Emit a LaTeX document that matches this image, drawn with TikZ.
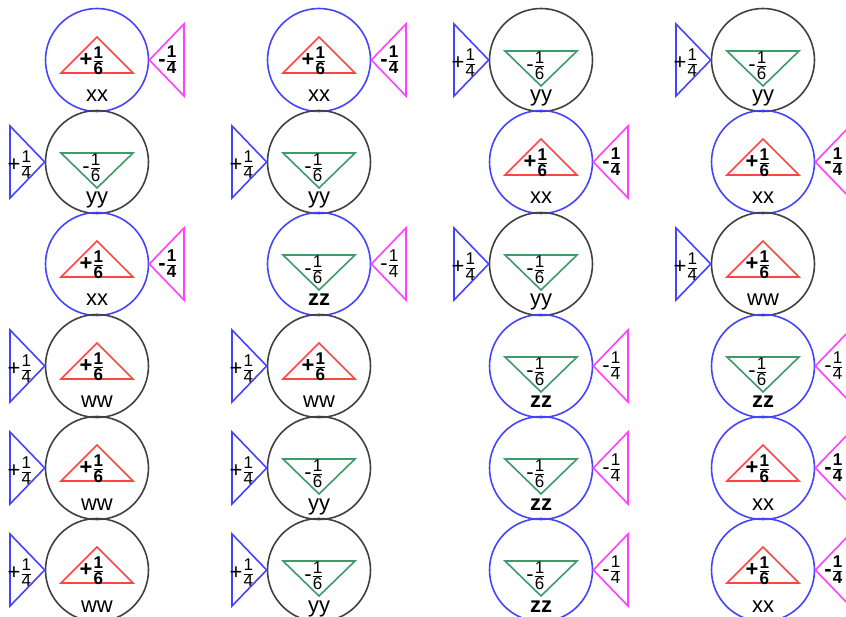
\documentclass[tikz,border=0pt]{standalone}
\usepackage{amsmath}
\usepackage{fontspec}
\setmainfont{Liberation Sans}
\usepackage{tikz}

\definecolor{ringblue}{RGB}{68,68,255}
\definecolor{ringgray}{RGB}{64,64,64}
\definecolor{trired}{RGB}{255,68,68}
\definecolor{trigreen}{RGB}{60,155,105}
\definecolor{sidepink}{RGB}{255,64,255}

\newcommand{\fracpart}[2]{$\genfrac{}{}{0.7pt}{1}{\hbox{\fontsize{17}{17}\selectfont #1}}{\hbox{\fontsize{17}{17}\selectfont #2}}$}

\begin{document}
\begin{tikzpicture}[
    x=1pt, y=-1pt,
    ring/.style={circle, draw, line width=1.6pt, minimum size=103pt, inner sep=0pt},
    tri/.style={line width=1.6pt},
    fractext/.style={font=\fontsize{22}{22}\selectfont, inner sep=0pt},
    boldfrac/.style={font=\fontsize{22}{22}\selectfont\bfseries, inner sep=0pt},
    tagtext/.style={font=\fontsize{22}{22}\selectfont, inner sep=0pt, anchor=base},
    xx/.pic={
        \node[ring, draw=ringblue] (-c) {};
        \draw[tri, trired] (0,-23) -- (36,13) -- (-36,13) -- cycle;
        \node[boldfrac] (-f) at (-5,1) {+\fracpart{1}{6}};
        \node[tagtext] (-t) at (0,42) {xx};
        \draw[tri, sidepink] (-c.east) -- (87,-36) -- (87,36) -- cycle;
        \node[boldfrac] (-s) at (71,0) {-\fracpart{1}{4}};
    },
    yy/.pic={
        \node[ring, draw=ringgray] (-c) {};
        \draw[tri, trigreen] (-36,-9) -- (36,-9) -- (0,26) -- cycle;
        \node[fractext] (-f) at (-5,6) {-\fracpart{1}{6}};
        \node[tagtext] (-t) at (0,42) {yy};
        \draw[tri, ringblue] (-c.west) -- (-87,-36) -- (-87,36) -- cycle;
        \node[fractext] (-s) at (-77,3) {+\fracpart{1}{4}};
    },
    zz/.pic={
        \node[ring, draw=ringblue] (-c) {};
        \draw[tri, trigreen] (-36,-9) -- (36,-9) -- (0,26) -- cycle;
        \node[fractext] (-f) at (-5,6) {-\fracpart{1}{6}};
        \node[tagtext, font=\fontsize{22}{22}\selectfont\bfseries] (-t) at (0,42) {zz};
        \draw[tri, sidepink] (-c.east) -- (87,-36) -- (87,36) -- cycle;
        \node[fractext] (-s) at (71,0) {-\fracpart{1}{4}};
    },
    ww/.pic={
        \node[ring, draw=ringgray] (-c) {};
        \draw[tri, trired] (0,-23) -- (36,13) -- (-36,13) -- cycle;
        \node[boldfrac] (-f) at (-5,1) {+\fracpart{1}{6}};
        \node[tagtext] (-t) at (0,42) {ww};
        \draw[tri, ringblue] (-c.west) -- (-87,-36) -- (-87,36) -- cycle;
        \node[fractext] (-s) at (-77,3) {+\fracpart{1}{4}};
    },
]
    \useasboundingbox (0,0) rectangle (846,617);

    % row 1
    \pic (r1c1) at (97,60) {xx};
    \pic (r1c2) at (319,60) {xx};
    \pic (r1c3) at (541,60) {yy};
    \pic (r1c4) at (763,60) {yy};
    % row 2
    \pic (r2c1) at (97,162) {yy};
    \pic (r2c2) at (319,162) {yy};
    \pic (r2c3) at (541,162) {xx};
    \pic (r2c4) at (763,162) {xx};
    % row 3
    \pic (r3c1) at (97,264) {xx};
    \pic (r3c2) at (319,264) {zz};
    \pic (r3c3) at (541,264) {yy};
    \pic (r3c4) at (763,264) {ww};
    % row 4
    \pic (r4c1) at (97,366) {ww};
    \pic (r4c2) at (319,366) {ww};
    \pic (r4c3) at (541,366) {zz};
    \pic (r4c4) at (763,366) {zz};
    % row 5
    \pic (r5c1) at (97,468) {ww};
    \pic (r5c2) at (319,468) {yy};
    \pic (r5c3) at (541,468) {zz};
    \pic (r5c4) at (763,468) {xx};
    % row 6
    \pic (r6c1) at (97,570) {ww};
    \pic (r6c2) at (319,570) {yy};
    \pic (r6c3) at (541,570) {zz};
    \pic (r6c4) at (763,570) {xx};
\end{tikzpicture}
\end{document}
